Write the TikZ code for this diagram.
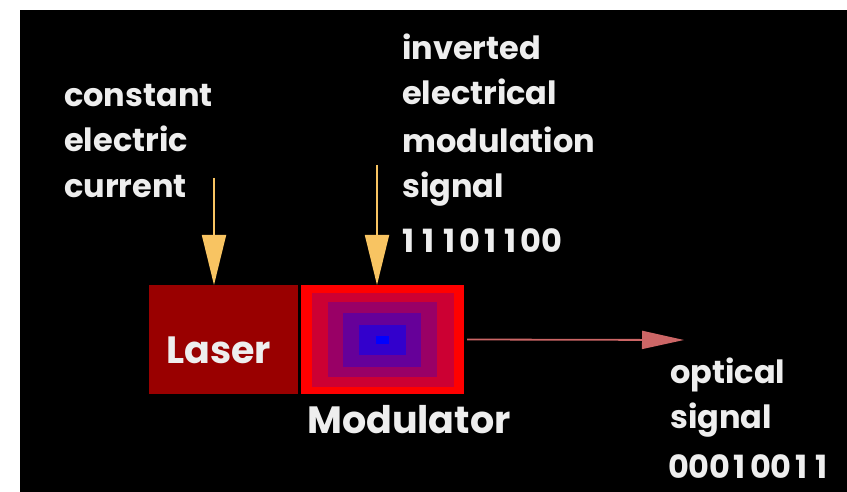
\documentclass[tikz,border=0pt]{standalone}
\usepackage{fontspec}
\setmainfont{Poppins}
\usetikzlibrary{arrows.meta}
\definecolor{txt}{HTML}{EEEEEE}
\definecolor{laserc}{HTML}{990000}
\definecolor{ringA}{HTML}{FF0000}
\definecolor{ringB}{HTML}{CC0033}
\definecolor{ringC}{HTML}{990066}
\definecolor{ringD}{HTML}{660099}
\definecolor{ringE}{HTML}{3300CC}
\definecolor{ringF}{HTML}{0000FF}
\definecolor{feed}{HTML}{F8C462}
\definecolor{outc}{HTML}{CC6666}
\newcommand\dg[1]{\makebox[20.5pt][c]{#1}}
\begin{document}
\begin{tikzpicture}[x=1pt,y=-1pt,
  lbl/.style={text=txt,inner sep=0,anchor=base west,font=\fontsize{32}{38}\selectfont\bfseries},
  big/.style={text=txt,inner sep=0,anchor=base west,font=\fontsize{38}{44}\selectfont\bfseries},
  ring/.style={inner sep=0,outer sep=0,draw=none},
  feedarrow/.style={draw=feed,line width=1.8pt,-{Triangle[width=24pt,length=50pt]},fill=feed},
  outarrow/.style={draw=outc,line width=1.8pt,-{Triangle[width=18pt,length=42pt]},fill=outc}]
\fill[white] (0,0) rectangle (847,492);
\fill[black] (20,10) rectangle (847,492);
\useasboundingbox (0,0) rectangle (847,492);
% laser
\node[ring,fill=laserc,minimum width=149pt,minimum height=109pt] (laser) at (223.5,339.5) {};
% modulator rings
\node[ring,fill=ringA,minimum width=163pt,minimum height=109pt] (mod) at (382.5,339.5) {};
\node[ring,fill=ringB,minimum width=142pt,minimum height=94pt] (modb) at (383,340) {};
\node[ring,fill=ringC,minimum width=109pt,minimum height=75pt] (modc) at (382.5,339.5) {};
\node[ring,fill=ringD,minimum width=78pt,minimum height=54pt] (modd) at (382,340) {};
\node[ring,fill=ringE,minimum width=47pt,minimum height=30pt] (mode) at (382.5,340) {};
\node[ring,fill=ringF,minimum width=13pt,minimum height=8pt] (modf) at (382.5,340) {};
% labels
\node[big] (lasertxt) at (166,363) {Laser};
\node[big] (modtxt) at (307,433) {Modulator};
\node[lbl] (c1) at (64,107) {constant};
\node[lbl] (c2) at (64,152) {electric};
\node[lbl] (c3) at (64,198) {current};
\node[lbl] (i1) at (402,60) {inverted};
\node[lbl] (i2) at (402,105) {electrical};
\node[lbl] (i3) at (402,153) {modulation};
\node[lbl] (i4) at (402,198) {signal};
\node[lbl] (i5) at (398,252) {\dg1\dg1\dg1\dg0\dg1\dg1\dg0\dg0};
\node[lbl] (o1) at (670,383) {optical};
\node[lbl] (o2) at (670,428) {signal};
\node[lbl] (o3) at (668,478) {\dg0\dg0\dg0\dg1\dg0\dg0\dg1\dg1};
% connectors
\coordinate (fa) at (214,178);
\coordinate (fb) at (377,165);
\coordinate (oe) at (684,340);
\draw[feedarrow] (fa) -- (fa |- laser.north);
\draw[feedarrow] (fb) -- (fb |- mod.north);
\draw[outarrow] ([xshift=3pt]mod.east) -- (oe);
\end{tikzpicture}
\end{document}
